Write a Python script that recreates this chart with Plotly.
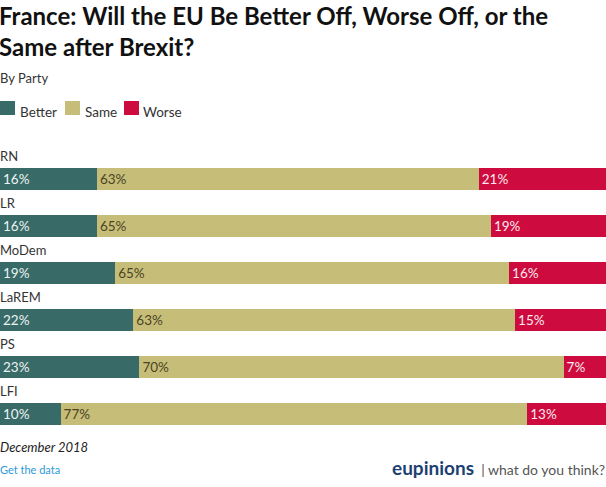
import plotly.graph_objects as go

parties = ["RN", "LR", "MoDem", "LaREM", "PS", "LFI"]
better = [16, 16, 19, 22, 23, 10]
same = [63, 65, 65, 63, 70, 77]
worse = [21, 19, 16, 15, 7, 13]

series = [
    ("Better", better, "#386b68", "#eef3f2"),
    ("Same", same, "#c6bd79", "#4a4422"),
    ("Worse", worse, "#cd0b3f", "#fbe9ee"),
]

FONT = "Lato, 'Open Sans', sans-serif"
idx = list(range(len(parties)))

PT, PB = 145, 430  # plot area pixel top / bottom
H = PB - PT


def py(p):
    return (PB - p) / H


fig = go.Figure()
for name, vals, color, tcolor in series:
    fig.add_trace(go.Bar(
        name=name, y=idx, x=vals, orientation="h",
        marker=dict(color=color, line=dict(width=0)),
        width=0.468,
        text=[f"{v}%" for v in vals],
        textposition="inside", insidetextanchor="start",
        textfont=dict(color=tcolor, size=13.5, family=FONT),
        hoverinfo="skip", showlegend=False,
    ))

for i, p in enumerate(parties):
    fig.add_annotation(x=0, y=i - 0.49, xref="x", yref="y", text=p,
                       showarrow=False, xanchor="left", yanchor="middle", xshift=-2,
                       font=dict(size=13, color="#333333", family=FONT))

# legend (manual)
legend_items = [("Better", "#386b68", 0, 20), ("Same", "#c6bd79", 65, 85), ("Worse", "#cd0b3f", 124, 143)]
for name, color, sx, tx in legend_items:
    fig.add_shape(type="rect", xref="paper", yref="paper",
                  x0=sx / 606, x1=(sx + 15) / 606, y0=py(115), y1=py(101),
                  fillcolor=color, line=dict(width=0))
    fig.add_annotation(x=tx / 606, y=py(112), xref="paper", yref="paper", text=name,
                       showarrow=False, xanchor="left", yanchor="middle", xshift=-2,
                       font=dict(size=13.5, color="#333333", family=FONT))

fig.add_annotation(x=0, y=py(-1), xref="paper", yref="paper",
                   text="<b>France: Will the EU Be Better Off, Worse Off, or the<br>Same after Brexit?</b>",
                   showarrow=False, xanchor="left", yanchor="top", align="left", xshift=-3,
                   font=dict(size=24, color="#111111", family=FONT))
fig.add_annotation(x=0, y=py(78), xref="paper", yref="paper",
                   text="By Party", showarrow=False, xanchor="left", yanchor="middle", xshift=-2,
                   font=dict(size=13, color="#333333", family=FONT))
fig.add_annotation(x=0, y=py(447), xref="paper", yref="paper",
                   text="<i>December 2018</i>", showarrow=False, xanchor="left", yanchor="middle", xshift=-2,
                   font=dict(size=13, color="#222222", family=FONT))
fig.add_annotation(x=0, y=py(469), xref="paper", yref="paper",
                   text="Get the data", showarrow=False, xanchor="left", yanchor="middle", xshift=-2,
                   font=dict(size=11, color="#2d9ad8", family=FONT))
fig.add_annotation(x=1, y=py(467), xref="paper", yref="paper",
                   text="<b><span style='font-size:19px;color:#1d3f73'>eupinions</span></b>"
                        "<span style='color:#555555'>  | what do you think?</span>",
                   showarrow=False, xanchor="right", yanchor="middle", xshift=1,
                   font=dict(size=14, color="#555555", family=FONT))

fig.update_layout(
    width=606, height=487,
    margin=dict(l=0, r=0, t=PT, b=487 - PB),
    barmode="stack",
    paper_bgcolor="white", plot_bgcolor="white",
    xaxis=dict(range=[0, 100], visible=False, fixedrange=True),
    yaxis=dict(range=[5.34, -0.723], visible=False, fixedrange=True),
    showlegend=False,
    uniformtext=dict(minsize=8, mode="show"),
)

fig.write_html("out.html", post_script="document.body.style.margin='0';",
               config={"displayModeBar": False})
